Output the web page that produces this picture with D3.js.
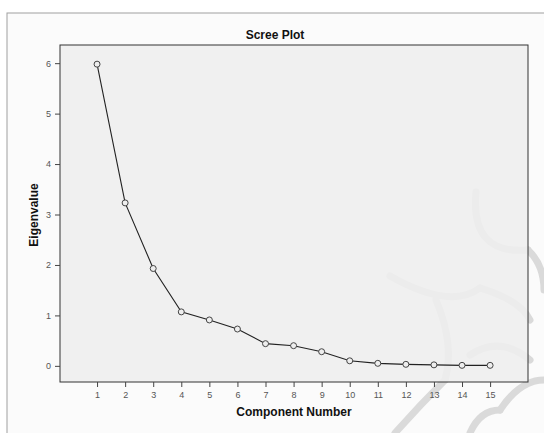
<!DOCTYPE html>
<html>
<head>
<meta charset="utf-8">
<script src="https://cdn.jsdelivr.net/npm/d3@7"></script>
<style>
  body { margin: 0; background: #fff; }
  svg { display: block; font-family: "Liberation Sans", Arial, sans-serif; }
</style>
</head>
<body>
<div id="chart"></div>
<script>
// scree plot values
var components = [1, 2, 3, 4, 5, 6, 7, 8, 9, 10, 11, 12, 13, 14, 15];
var eigenvalues = [5.98, 3.23, 1.93, 1.07, 0.91, 0.73, 0.44, 0.40, 0.28, 0.10, 0.05, 0.03, 0.02, 0.01, 0.01];
var yTicks = [0, 1, 2, 3, 4, 5, 6];

var W = 544, H = 433;
var plot = { left: 60, top: 45, right: 528, bottom: 382 };

var svg = d3.select("#chart").append("svg")
  .attr("width", W)
  .attr("height", H);

// outer frame (only left + top are visible)
svg.append("rect").attr("x", 7).attr("y", 13).attr("width", W).attr("height", H)
  .attr("fill", "#fbfbfb").attr("stroke", "#a0a0a0").attr("stroke-width", 1);

// faint watermark in the lower right corner
var wm = svg.append("g").attr("fill", "none").attr("stroke", "#dadada")
  .attr("stroke-width", 7).attr("stroke-linecap", "round");
var wmPaths = [
  "M476,192 Q470,255 528,250",
  "M390,276 Q450,310 480,288",
  "M480,288 Q520,300 530,320",
  "M436,300 Q455,345 445,380",
  "M445,380 Q420,405 395,433",
  "M470,355 Q500,335 530,360",
  "M500,410 Q520,380 544,380",
  "M470,433 Q480,410 500,410",
  "M528,250 Q544,265 544,290"
];
wm.selectAll("path").data(wmPaths).enter().append("path").attr("d", function(d) { return d; });

var x = d3.scaleLinear().domain([-0.32, 16.35]).range([plot.left, plot.right]);
var y = d3.scaleLinear().domain([-0.32, 6.36]).range([plot.bottom, plot.top]);

// plot background
svg.append("rect")
  .attr("x", plot.left).attr("y", plot.top)
  .attr("width", plot.right - plot.left).attr("height", plot.bottom - plot.top)
  .attr("fill", "#eeeeee").attr("fill-opacity", 0.88)
  .attr("stroke", "#333").attr("stroke-width", 1);

// axes
var xAxis = svg.append("g")
  .attr("transform", "translate(0," + plot.bottom + ")")
  .call(d3.axisBottom(x).tickValues(components).tickSize(5).tickSizeOuter(0));
var yAxis = svg.append("g")
  .attr("transform", "translate(" + plot.left + ",0)")
  .call(d3.axisLeft(y).tickValues(yTicks).tickFormat(d3.format("d")).tickSize(5).tickSizeOuter(0));

[xAxis, yAxis].forEach(function(a) {
  a.select(".domain").remove();
  a.selectAll("line").attr("stroke", "#444");
  a.selectAll("text").attr("fill", "#555").style("font-size", "9px");
});
xAxis.selectAll("text").attr("dy", "0.9em");
yAxis.selectAll("text").attr("dx", "-0.1em");

// line + markers
var line = d3.line()
  .x(function(d, i) { return x(components[i]); })
  .y(function(d) { return y(d); });

svg.append("path")
  .datum(eigenvalues)
  .attr("d", line)
  .attr("fill", "none")
  .attr("stroke", "#222")
  .attr("stroke-width", 1.1);

svg.selectAll(".pt")
  .data(eigenvalues)
  .enter().append("circle")
  .attr("class", "pt")
  .attr("cx", function(d, i) { return x(components[i]); })
  .attr("cy", function(d) { return y(d); })
  .attr("r", 3)
  .attr("fill", "#eeeeee")
  .attr("stroke", "#444")
  .attr("stroke-width", 1);

// texts
svg.append("text")
  .attr("x", 275).attr("y", 39)
  .attr("text-anchor", "middle")
  .style("font-size", "12px").style("font-weight", "bold")
  .attr("fill", "#111")
  .text("Scree Plot");

svg.append("text")
  .attr("x", 294).attr("y", 416)
  .attr("text-anchor", "middle")
  .style("font-size", "12px").style("font-weight", "bold")
  .attr("fill", "#111")
  .text("Component Number");

svg.append("text")
  .attr("transform", "translate(38,215) rotate(-90)")
  .attr("text-anchor", "middle")
  .style("font-size", "12px").style("font-weight", "bold")
  .attr("fill", "#111")
  .text("Eigenvalue");
</script>
</body>
</html>
